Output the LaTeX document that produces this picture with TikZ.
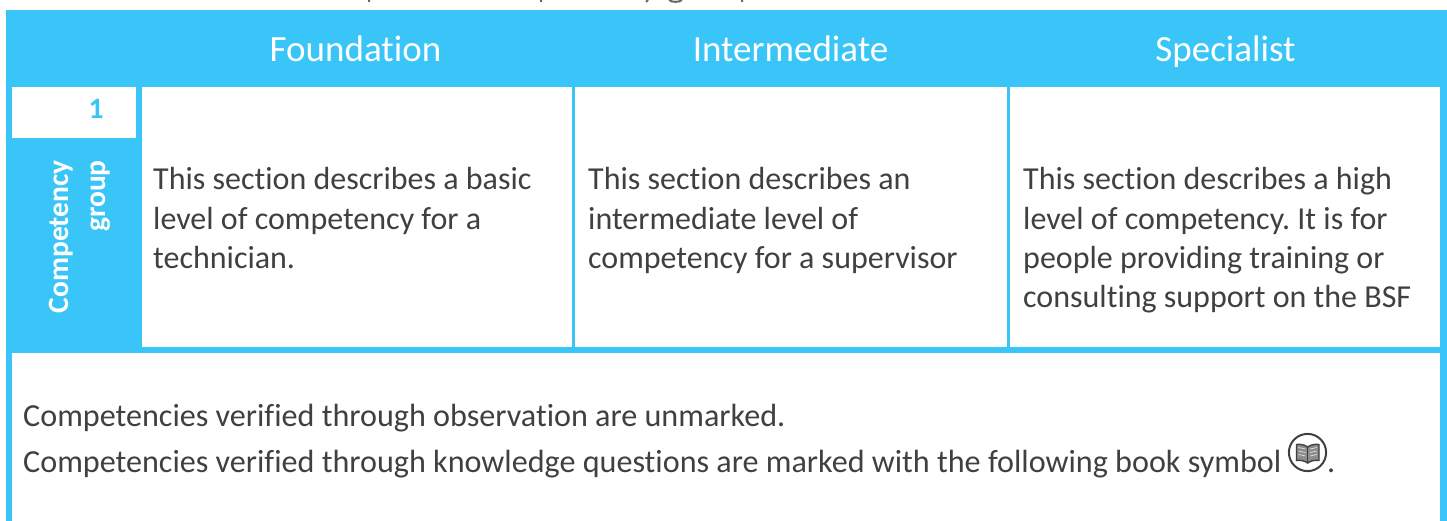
\documentclass[tikz,border=0pt]{standalone}
\usepackage{fontspec}
\setmainfont{Carlito}[Ligatures=NoCommon]
\frenchspacing
\definecolor{sky}{HTML}{39C5F7}
\definecolor{ink}{HTML}{404040}
\tikzset{
  x=1pt,y=-1pt,
  band/.style={fill=sky,draw=none},
  hd/.style={text=white,font=\fontsize{37}{37}\selectfont,anchor=base,inner sep=0pt},
  body/.style={text=ink,font=\fontsize{32}{39.3}\selectfont,anchor=north west,align=left,inner sep=0pt},
  note/.style={text=ink,font=\fontsize{32.13}{32}\selectfont,anchor=base west,inner sep=0pt},
  side/.style={text=white,font=\bfseries\fontsize{29.5}{29.5}\selectfont,rotate=90,anchor=base east,inner sep=0pt},
  cut/.style={ink!80,line width=2pt},
}
\begin{document}
\begin{tikzpicture}
\useasboundingbox (0,0) rectangle (1447,521);
\fill[white] (0,0) rectangle (1447,521);
\draw[cut] (369,0)--(369,2) (541,0)--(541,2) (742,0)--(742,2) (648,0)--(646,2) (669,0) .. controls (672,2.5) and (679,2.5) .. (682,0);
\fill[band] (6,10) rectangle (1447,87);
\fill[band] (6,87) rectangle (142,347);
\fill[white] (12,87) rectangle (136,138);
\fill[band] (6,347) rectangle (1447,353);
\fill[band] (6,353) rectangle (12,521);
\fill[band] (1440,87) rectangle (1447,521);
\fill[band] (572,87) rectangle (575,347);
\fill[band] (1007,87) rectangle (1010,347);
\node[hd] (f) at (355.5,61.5) {Foundation};
\node[hd] (i) at (790.5,61.5) {Intermediate};
\node[hd] (s) at (1225.5,61.5) {Specialist};
\node[text=sky,font=\bfseries\fontsize{29.5}{29.5}\selectfont,anchor=base,inner sep=0pt] (n) at (96,119) {1};
\node[side] (c) at (68,160) {Competency};
\node[side] (g) at (105,160) {group};
\node[body] (a) at (153,167.5) {This section describes a basic\\level of competency for a\\technician.};
\node[body] (b) at (588,167.5) {This section describes an\\intermediate level of\\competency for a supervisor};
\node[body] (d) at (1023,167.5) {This section describes a high\\level of competency. It is for\\people providing training or\\consulting support on the BSF};
\node[note] (m) at (23,426) {Competencies verified through observation are unmarked.};
\node[note] (o) at (23,472.5) {Competencies verified through knowledge questions are marked with the following book symbol};
\node[note] (p) at (1327,472.5) {.};
\draw[ink,line width=2pt] (1307.5,452.5) circle (18.6);
\filldraw[fill=ink!60,draw=ink,line width=1.4pt] (1307.7,447) .. controls (1304,444.5) and (1300,444) .. (1296.5,444.5) -- (1296.5,460.5) .. controls (1300,460) and (1304,460.5) .. (1307.7,463) .. controls (1311,460.5) and (1315,460) .. (1319,460.5) -- (1319,444.5) .. controls (1315,444) and (1311,444.5) .. (1307.7,447) -- cycle;
\draw[ink,line width=1.4pt] (1307.7,447)--(1307.7,463);
\draw[white!85!ink,line width=.7pt] (1298.5,447.5)--(1305.5,449) (1298.5,451)--(1305.5,452.5) (1298.5,454.5)--(1305.5,456) (1317,447.5)--(1310,449) (1317,451)--(1310,452.5) (1317,454.5)--(1310,456);
\end{tikzpicture}
\end{document}
